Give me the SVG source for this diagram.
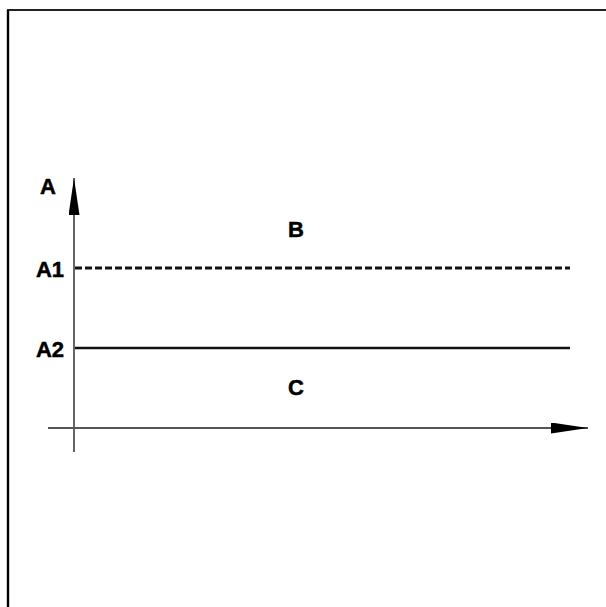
<svg xmlns="http://www.w3.org/2000/svg" width="606" height="607" viewBox="0 0 606 607">
<style>
.lbl{font-family:"Liberation Sans",Arial,sans-serif;font-weight:bold;font-size:22px;fill:#000;stroke:#000;stroke-width:0.5}
.ax{stroke:#555;stroke-width:1.8;fill:none}
</style>
<defs>
<marker id="ah" markerWidth="38" markerHeight="11" refX="37" refY="5.5" orient="auto" markerUnits="userSpaceOnUse">
<path d="M0,0 L37,5.5 L0,11 Z" fill="#000"/>
</marker>
</defs>
<rect x="0" y="0" width="606" height="607" fill="#fff"/>
<g id="frame">
<line x1="7" y1="10" x2="606" y2="10" stroke="#222" stroke-width="1.8"/>
<line x1="8" y1="10" x2="8" y2="607" stroke="#000" stroke-width="2.4"/>
</g>
<g id="connectors">
<line class="ax" x1="74" y1="452" x2="74" y2="178" marker-end="url(#ah)"/>
<line class="ax" x1="48" y1="428" x2="588" y2="428" marker-end="url(#ah)"/>
<line id="a1-line" x1="75" y1="268" x2="570" y2="268" stroke="#111" stroke-width="2.8" stroke-dasharray="7,3"/>
<line id="a2-line" x1="75" y1="348" x2="570" y2="348" stroke="#111" stroke-width="2.4"/>
</g>
<g id="label-A"><text class="lbl" x="48" y="194" text-anchor="middle">A</text></g>
<g id="label-A1"><text class="lbl" x="64" y="277" text-anchor="end">A1</text></g>
<g id="label-A2"><text class="lbl" x="64" y="357" text-anchor="end">A2</text></g>
<g id="label-B"><text class="lbl" x="296" y="237" text-anchor="middle">B</text></g>
<g id="label-C"><text class="lbl" x="296" y="395" text-anchor="middle">C</text></g>
</svg>
